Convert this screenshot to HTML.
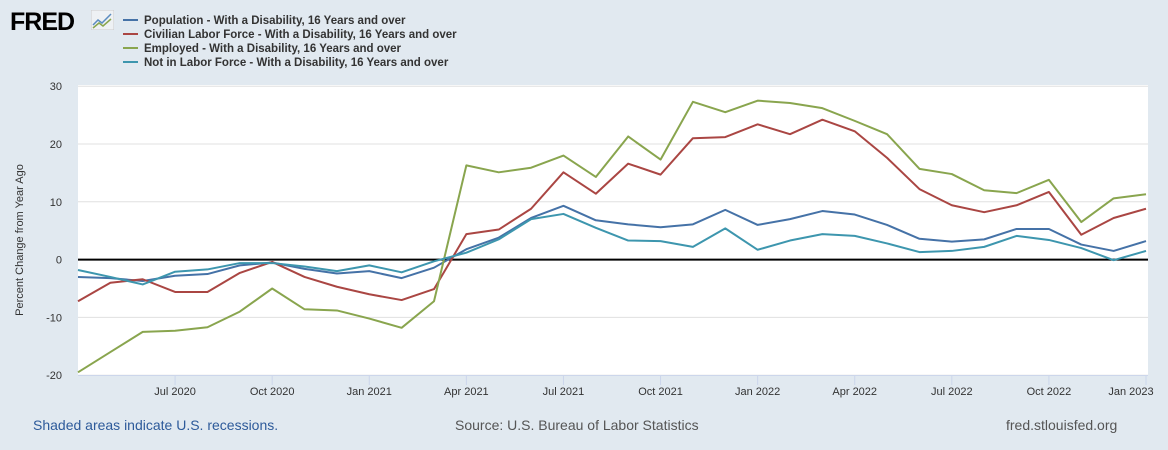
<!DOCTYPE html>
<html><head><meta charset="utf-8"><style>
body{margin:0;width:1168px;height:450px;background:#e1e9f0;font-family:"Liberation Sans",sans-serif;overflow:hidden;position:relative}
.t{position:absolute;white-space:nowrap}
</style></head><body>
<div class="t" style="left:10px;top:8px;font-size:25px;font-weight:bold;color:#000;letter-spacing:-1px">FRED</div>
<svg style="position:absolute;left:91px;top:10px" width="23" height="20"><rect x="0" y="0" width="23" height="20" fill="#eef1f4" stroke="#ccc"/><polyline points="2,15 7,10 11,13 20,4" fill="none" stroke="#5b8cc0" stroke-width="1.5"/><polyline points="2,18 8,13 12,16 20,9" fill="none" stroke="#89a54e" stroke-width="1.5"/></svg>
<svg id="chart" width="1168" height="450" style="position:absolute;left:0;top:0"></svg>
<div class="t" style="left:33px;top:417px;font-size:14px;color:#2d5a9a">Shaded areas indicate U.S. recessions.</div>
<div class="t" style="left:455px;top:417px;font-size:14px;color:#555">Source: U.S. Bureau of Labor Statistics</div>
<div class="t" style="left:1006px;top:417px;font-size:14px;color:#555">fred.stlouisfed.org</div>
<script>
const seriesNames=["Population - With a Disability, 16 Years and over","Civilian Labor Force - With a Disability, 16 Years and over","Employed - With a Disability, 16 Years and over","Not in Labor Force - With a Disability, 16 Years and over"];
const colors=["#4572a7","#aa4643","#89a54e","#3d96ae"];
const population=[-3,-3.2,-3.7,-2.8,-2.5,-1,-0.5,-1.6,-2.4,-2,-3.2,-1.4,1.8,3.8,7.2,9.3,6.8,6.1,5.6,6.1,8.6,6,7,8.4,7.8,6,3.6,3.1,3.5,5.3,5.3,2.6,1.5,3.2];
const laborForce=[-7.2,-4,-3.4,-5.6,-5.6,-2.3,-0.4,-3,-4.7,-6,-7,-5.1,4.4,5.2,8.8,15.1,11.4,16.6,14.7,21,21.2,23.4,21.7,24.2,22.2,17.6,12.2,9.4,8.2,9.4,11.7,4.3,7.2,8.8];
const employed=[-19.5,-16,-12.5,-12.3,-11.7,-9,-5,-8.6,-8.8,-10.2,-11.8,-7.2,16.3,15.1,15.9,18,14.3,21.3,17.3,27.3,25.5,27.5,27.1,26.2,24,21.7,15.7,14.8,12,11.5,13.8,6.5,10.6,11.3];
const notInLF=[-1.8,-3,-4.3,-2.1,-1.7,-0.6,-0.6,-1.2,-2,-1,-2.2,-0.3,1.2,3.5,7,7.9,5.5,3.3,3.2,2.2,5.4,1.7,3.3,4.4,4.1,2.8,1.3,1.5,2.2,4.1,3.4,2,-0.1,1.5];
const yTicks=[-20,-10,0,10,20,30];
const xTickIdx=[3,6,9,12,15,18,21,24,27,30,33];
const xTickLabels=["Jul 2020","Oct 2020","Jan 2021","Apr 2021","Jul 2021","Oct 2021","Jan 2022","Apr 2022","Jul 2022","Oct 2022","Jan 2023"];
const NS="http://www.w3.org/2000/svg",svg=document.getElementById('chart');
const X0=78,X1=1146,n=employed.length;
const x=i=>X0+i*(X1-X0)/(n-1);
const y=v=>259.6-v*5.78;
function mk(t,a){const e=document.createElementNS(NS,t);for(const k in a)e.setAttribute(k,a[k]);svg.appendChild(e);return e;}
const bg=mk('rect',{x:78,y:85,width:1070,height:290,fill:'#fff'});


yTicks.forEach(v=>{
 const l=mk('line',{x1:78,x2:1148,y1:y(v),y2:y(v),stroke:v===0?'#000':'#e0e0e0','stroke-width':v===0?2:1});
 
 
 const t=mk('text',{x:62,y:y(v)+4,'text-anchor':'end','font-size':11,fill:'#333'});t.textContent=v;
 
 
});
const ax=mk('line',{x1:78,x2:1148,y1:375.5,y2:375.5,stroke:'#ccd6eb'});


xTickIdx.forEach((k,j)=>{
 const tk=mk('line',{x1:x(k),x2:x(k),y1:375,y2:385,stroke:'#ccd6eb'});
 
 
 const t=mk('text',{x:Math.min(x(k),1131),y:395,'text-anchor':'middle','font-size':11,fill:'#333'});t.textContent=xTickLabels[j];
 
 
});
const yt=mk('text',{transform:'translate(23,240) rotate(-90)','text-anchor':'middle','font-size':11,fill:'#333'});yt.textContent='Percent Change from Year Ago';


[population,laborForce,employed,notInLF].forEach((s,si)=>{
 const p=mk('polyline',{points:s.map((v,i)=>x(i)+','+y(v)).join(' '),fill:'none',stroke:colors[si],'stroke-width':2,'stroke-linejoin':'round'});
 
 
 const ly=20+si*14;
 const ll=mk('line',{x1:123,x2:138,y1:ly,y2:ly,stroke:colors[si],'stroke-width':2});
 
 
 const lt=mk('text',{x:144,y:ly+4,'font-size':11.5,'font-weight':'bold',fill:'#333'});lt.textContent=seriesNames[si];
 
 
});
</script>
</body></html>
